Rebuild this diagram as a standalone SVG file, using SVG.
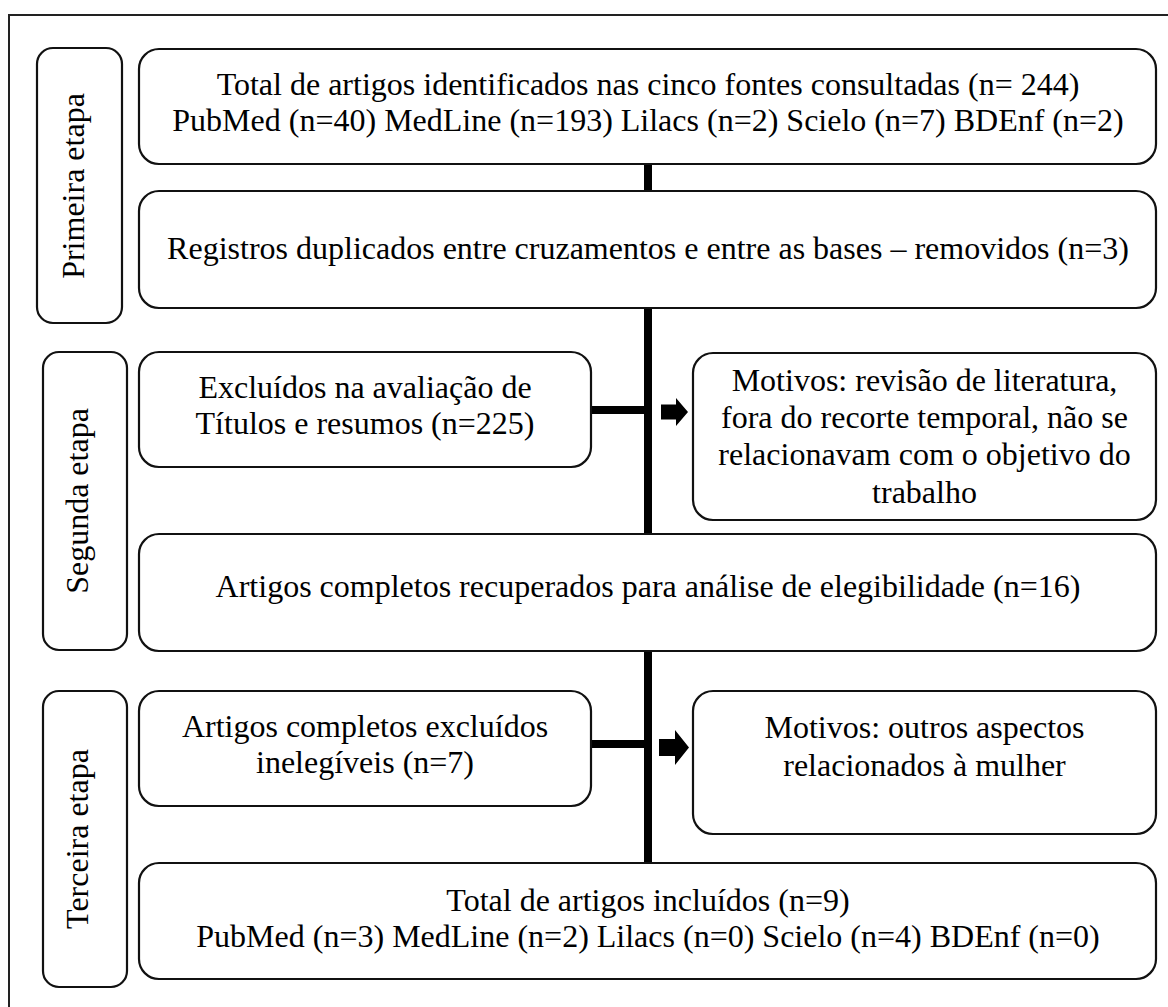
<svg xmlns="http://www.w3.org/2000/svg" width="1168" height="1007" viewBox="0 0 1168 1007">
<style>
  .box{fill:#fff;stroke:#111;stroke-width:2.2}
  .t{font-family:"Liberation Serif","Times New Roman",serif;font-size:32px;fill:#000;text-anchor:middle}
  .conn{fill:#000}
</style>
<rect x="0" y="0" width="1168" height="1007" fill="#fff"/>
<rect x="9" y="15" width="1170" height="1000" fill="none" stroke="#222" stroke-width="2"/>
<g id="connectors">
  <rect class="conn" x="644" y="164" width="8" height="699"/>
  <rect class="conn" x="591" y="406" width="57" height="8"/>
  <rect class="conn" x="591" y="740" width="57" height="8"/>
  <polygon class="conn" points="661,404.5 676,404.5 676,398 688,412 676,426 676,419.5 661,419.5"/>
  <polygon class="conn" points="659,739 675,739 675,730 689,747.5 675,765 675,756 659,756"/>
</g>
<g id="stage1">
  <rect class="box" x="37" y="48" width="85" height="275" rx="16"/>
  <text class="t" transform="translate(84,186) rotate(-90)">Primeira etapa</text>
</g>
<g id="stage2">
  <rect class="box" x="43" y="352" width="84" height="298" rx="16"/>
  <text class="t" transform="translate(88,501) rotate(-90)">Segunda etapa</text>
</g>
<g id="stage3">
  <rect class="box" x="43" y="691" width="84" height="296" rx="16"/>
  <text class="t" transform="translate(88,839) rotate(-90)">Terceira etapa</text>
</g>
<g id="box1">
  <rect class="box" x="139" y="49" width="1017" height="115" rx="20"/>
  <text class="t" x="648" y="95">Total de artigos identificados nas cinco fontes consultadas (n= 244)<tspan x="648" y="131">PubMed (n=40) MedLine (n=193) Lilacs (n=2) Scielo (n=7) BDEnf (n=2)</tspan></text>
</g>
<g id="box2">
  <rect class="box" x="139" y="191" width="1017" height="117" rx="20"/>
  <text class="t" x="648" y="259">Registros duplicados entre cruzamentos e entre as bases – removidos (n=3)</text>
</g>
<g id="box3">
  <rect class="box" x="139" y="352" width="452" height="115" rx="20"/>
  <text class="t" x="365" y="398">Excluídos na avaliação de<tspan x="365" y="434">Títulos e resumos (n=225)</tspan></text>
</g>
<g id="box4">
  <rect class="box" x="693" y="353" width="463" height="167" rx="20"/>
  <text class="t" x="924.5" y="391">Motivos: revisão de literatura,<tspan x="924.5" y="428">fora do recorte temporal, não se</tspan><tspan x="924.5" y="465">relacionavam com o objetivo do</tspan><tspan x="924.5" y="503">trabalho</tspan></text>
</g>
<g id="box5">
  <rect class="box" x="139" y="534" width="1017" height="117" rx="20"/>
  <text class="t" x="648" y="597">Artigos completos recuperados para análise de elegibilidade (n=16)</text>
</g>
<g id="box6">
  <rect class="box" x="139" y="691" width="452" height="115" rx="20"/>
  <text class="t" x="365" y="737">Artigos completos excluídos<tspan x="365" y="773">inelegíveis (n=7)</tspan></text>
</g>
<g id="box7">
  <rect class="box" x="693" y="691" width="463" height="143" rx="20"/>
  <text class="t" x="924.5" y="738">Motivos: outros aspectos<tspan x="924.5" y="776">relacionados à mulher</tspan></text>
</g>
<g id="box8">
  <rect class="box" x="139" y="863" width="1017" height="116" rx="20"/>
  <text class="t" x="648" y="911">Total de artigos incluídos (n=9)<tspan x="648" y="947">PubMed (n=3) MedLine (n=2) Lilacs (n=0) Scielo (n=4) BDEnf (n=0)</tspan></text>
</g>
</svg>
